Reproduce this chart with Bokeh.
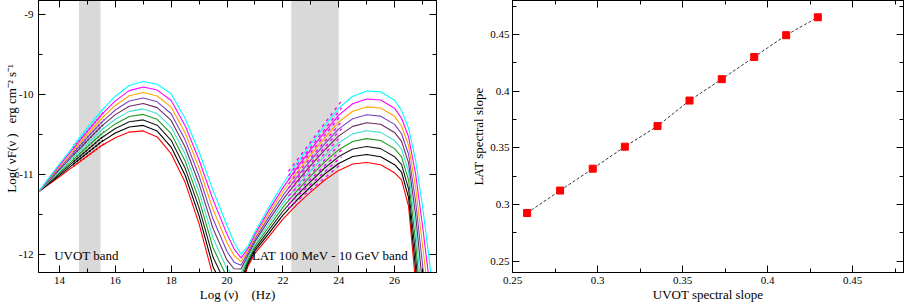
from bokeh.plotting import figure
from bokeh.models import (Range1d, LinearAxis, SingleIntervalTicker, BoxAnnotation,
                          Label, CustomJSTickFormatter)
from bokeh.layouts import row
from bokeh.embed import file_html
from bokeh.resources import INLINE

# ---------------- data: left panel (SED curves) ----------------
log_nu = [13.25, 13.5, 14.0, 14.5, 15.0, 15.5, 16.0, 16.5, 17.0, 17.5, 18.0, 18.5,
          19.0, 19.5, 20.0, 20.25, 20.5, 20.75, 21.0, 21.5, 22.0, 22.5, 23.0, 23.5,
          24.0, 24.5, 25.0, 25.5, 26.0, 26.25, 26.5, 26.75, 27.0, 27.25, 27.5]

sed_red = [-11.22, -11.155, -11.03, -10.90, -10.77, -10.64, -10.54, -10.47, -10.455, -10.53, -10.74, -11.10,
           -11.62, -12.28, -12.62, -12.60, -12.42, -12.15, -11.99, -11.78, -11.56, -11.38, -11.22, -11.07,
           -10.95, -10.87, -10.85, -10.88, -10.98, -11.07, -11.40, -12.35, -13.60, -14.5, -15.0]
sed_black1 = [-11.22, -11.149, -11.012, -10.872, -10.731, -10.592, -10.482, -10.405, -10.386, -10.457, -10.657, -11.011,
              -11.52, -12.16, -12.511, -12.517, -12.373, -12.122, -11.96, -11.739, -11.511, -11.322, -11.153, -10.994,
              -10.863, -10.776, -10.751, -10.778, -10.879, -10.973, -11.291, -12.18, -13.356, -14.233, -14.767]
sed_black2 = [-11.22, -11.143, -10.994, -10.843, -10.692, -10.543, -10.424, -10.34, -10.317, -10.383, -10.573, -10.922,
              -11.42, -12.04, -12.402, -12.433, -12.327, -12.094, -11.93, -11.698, -11.462, -11.264, -11.087, -10.919,
              -10.777, -10.681, -10.651, -10.677, -10.778, -10.877, -11.182, -12.01, -13.111, -13.967, -14.533]
sed_green = [-11.22, -11.137, -10.977, -10.815, -10.653, -10.495, -10.367, -10.275, -10.248, -10.31, -10.49, -10.833,
             -11.32, -11.92, -12.293, -12.35, -12.28, -12.067, -11.90, -11.657, -11.413, -11.207, -11.02, -10.843,
             -10.69, -10.587, -10.552, -10.575, -10.677, -10.78, -11.073, -11.84, -12.867, -13.70, -14.30]
sed_turquoise = [-11.22, -11.131, -10.959, -10.787, -10.614, -10.447, -10.309, -10.21, -10.179, -10.237, -10.407, -10.744,
                 -11.22, -11.80, -12.184, -12.267, -12.233, -12.039, -11.87, -11.616, -11.364, -11.149, -10.953, -10.768,
                 -10.603, -10.492, -10.452, -10.473, -10.576, -10.683, -10.964, -11.67, -12.622, -13.433, -14.067]
sed_maroon = [-11.22, -11.124, -10.941, -10.758, -10.576, -10.398, -10.251, -10.145, -10.111, -10.163, -10.323, -10.656,
              -11.12, -11.68, -12.076, -12.183, -12.187, -12.011, -11.84, -11.574, -11.316, -11.091, -10.887, -10.692,
              -10.517, -10.398, -10.353, -10.372, -10.474, -10.587, -10.856, -11.50, -12.378, -13.167, -13.833]
sed_purple = [-11.22, -11.118, -10.923, -10.730, -10.537, -10.350, -10.193, -10.08, -10.042, -10.09, -10.24, -10.567,
              -11.02, -11.56, -11.967, -12.10, -12.14, -11.983, -11.81, -11.533, -11.267, -11.033, -10.82, -10.617,
              -10.43, -10.303, -10.253, -10.27, -10.373, -10.49, -10.747, -11.33, -12.133, -12.90, -13.60]
sed_orange = [-11.22, -11.112, -10.906, -10.702, -10.498, -10.302, -10.136, -10.015, -9.973, -10.017, -10.157, -10.478,
              -10.92, -11.44, -11.858, -12.017, -12.093, -11.956, -11.78, -11.492, -11.218, -10.976, -10.753, -10.541,
              -10.343, -10.209, -10.154, -10.168, -10.272, -10.393, -10.638, -11.16, -11.889, -12.633, -13.367]
sed_magenta = [-11.22, -11.106, -10.888, -10.673, -10.459, -10.253, -10.078, -9.95, -9.904, -9.943, -10.073, -10.389,
               -10.82, -11.32, -11.749, -11.933, -12.047, -11.928, -11.75, -11.451, -11.169, -10.918, -10.687, -10.466,
               -10.257, -10.114, -10.054, -10.067, -10.171, -10.297, -10.529, -10.99, -11.644, -12.367, -13.133]
sed_cyan = [-11.22, -11.10, -10.87, -10.645, -10.42, -10.205, -10.02, -9.885, -9.835, -9.87, -9.99, -10.30,
            -10.72, -11.20, -11.64, -11.85, -12.00, -11.90, -11.72, -11.41, -11.12, -10.86, -10.62, -10.39,
            -10.17, -10.02, -9.955, -9.965, -10.07, -10.20, -10.42, -10.82, -11.40, -12.10, -12.90]

curve_colors = ["#ff0000", "#000000", "#1a1a1a", "#1f9a1f", "#40e0d0",
                "#6b2a60", "#7b44c4", "#ffa500", "#ff00ff", "#00ffff"]

# power-law fits inside the bands (end points)
uvot_fit_x = [14.5, 15.6]
uvot_fit_y0 = [-10.900, -10.870, -10.841, -10.811, -10.782, -10.753, -10.724, -10.694, -10.665, -10.635]
uvot_fit_y1 = [-10.615, -10.564, -10.514, -10.463, -10.413, -10.364, -10.313, -10.263, -10.212, -10.162]
lat_fit_x = [22.2, 24.1]
lat_fit_y0 = [-11.423, -11.372, -11.322, -11.270, -11.219, -11.171, -11.119, -11.068, -11.018, -10.963]
lat_fit_y1 = [-10.867, -10.778, -10.692, -10.604, -10.517, -10.427, -10.339, -10.250, -10.164, -10.079]

uvot_band = [14.7, 15.47]
lat_band = [22.3, 24.0]

# ---------------- data: right panel (slopes) ----------------
uvot_slope = [0.2586, 0.278, 0.2972, 0.3161, 0.3353, 0.3541, 0.3731, 0.3922, 0.4110, 0.4296]
lat_slope = [0.2925, 0.3123, 0.3316, 0.3510, 0.3692, 0.3917, 0.4106, 0.4302, 0.4494, 0.4652]

FONT = "Liberation Serif"
NB = "\u00a0"


def style_axis(ax, labels=True):
    ax.major_tick_in = 7
    ax.major_tick_out = 0
    ax.minor_tick_in = 4
    ax.minor_tick_out = 0
    ax.axis_line_color = "black"
    ax.major_tick_line_color = "black"
    ax.minor_tick_line_color = "black"
    ax.major_label_text_font = FONT
    ax.axis_label_text_font = FONT
    ax.axis_label_text_font_style = "normal"
    ax.axis_label_text_font_size = "13px"
    ax.axis_label_text_color = "black"
    if labels:
        ax.major_label_text_font_size = "11px"
        ax.major_label_text_color = "black"
    else:
        ax.major_label_text_font_size = "0px"
        ax.major_label_text_color = None
        ax.major_label_standoff = 0
        ax.axis_label = None


def mirror_axes(p, xticker, yticker):
    top = LinearAxis(ticker=xticker)
    right = LinearAxis(ticker=yticker)
    style_axis(top, labels=False)
    style_axis(right, labels=False)
    p.add_layout(top, "above")
    p.add_layout(right, "right")


plain_fmt = CustomJSTickFormatter(code="return String(Math.round(tick*100)/100);")

# ---------------- left panel ----------------
p1 = figure(width=460, height=304, output_backend="svg", toolbar_location=None,
            x_range=Range1d(13.25, 27.5), y_range=Range1d(-12.23, -8.82),
            min_border_left=37, min_border_right=24, min_border_top=0, min_border_bottom=27)
p1.grid.visible = False
p1.outline_line_color = "black"
p1.background_fill_color = "white"
p1.border_fill_color = "white"

xt1 = SingleIntervalTicker(interval=2, num_minor_ticks=2)
yt1 = SingleIntervalTicker(interval=1, num_minor_ticks=2)
p1.xaxis.ticker = xt1
p1.yaxis.ticker = yt1
style_axis(p1.xaxis[0])
style_axis(p1.yaxis[0])
p1.xaxis.formatter = plain_fmt
p1.yaxis.formatter = plain_fmt
p1.xaxis.major_label_standoff = 4
p1.yaxis.major_label_standoff = 5
p1.xaxis.axis_label = "Log (\u03bd)" + NB * 4 + "(Hz)"
p1.yaxis.axis_label = (NB * 5 + "Log(" + NB + "\u03bdF(\u03bd" + NB + ")" + NB * 3
                       + "erg cm\u207b\u00b2 s\u207b\u00b9")
p1.xaxis.axis_label_standoff = 0
p1.yaxis.axis_label_standoff = -3
mirror_axes(p1, xt1, yt1)

p1.add_layout(BoxAnnotation(left=uvot_band[0], right=uvot_band[1], fill_color="#d9d9d9",
                            fill_alpha=1.0, line_color=None, level="underlay"))
p1.add_layout(BoxAnnotation(left=lat_band[0], right=lat_band[1], fill_color="#d9d9d9",
                            fill_alpha=1.0, line_color=None, level="underlay"))

curves = [sed_red, sed_black1, sed_black2, sed_green, sed_turquoise,
          sed_maroon, sed_purple, sed_orange, sed_magenta, sed_cyan]
for ys, col in zip(curves, curve_colors):
    p1.line(log_nu, ys, line_color=col, line_width=1.1)

for i, col in enumerate(curve_colors):
    p1.line(uvot_fit_x, [uvot_fit_y0[i], uvot_fit_y1[i]], line_color=col,
            line_width=1.6, line_dash="2 2")
    p1.line(lat_fit_x, [lat_fit_y0[i], lat_fit_y1[i]], line_color="#ff00ff",
            line_width=1.4, line_dash="3 4")

p1.add_layout(Label(x=13.81, y=-12.105, text="UVOT band", text_font=FONT,
                    text_font_size="13px", text_color="black"))
p1.add_layout(Label(x=20.89, y=-12.105, text="LAT 100 MeV - 10 GeV band", text_font=FONT,
                    text_font_size="13px", text_color="black"))

# ---------------- right panel ----------------
p2 = figure(width=444, height=304, output_backend="svg", toolbar_location=None,
            x_range=Range1d(0.25, 0.48), y_range=Range1d(0.24, 0.48),
            min_border_left=52, min_border_right=1, min_border_top=0, min_border_bottom=27)
p2.grid.visible = False
p2.outline_line_color = "black"
p2.background_fill_color = "white"
p2.border_fill_color = "white"

xt2 = SingleIntervalTicker(interval=0.05, num_minor_ticks=2)
yt2 = SingleIntervalTicker(interval=0.05, num_minor_ticks=2)
p2.xaxis.ticker = xt2
p2.yaxis.ticker = yt2
style_axis(p2.xaxis[0])
style_axis(p2.yaxis[0])
p2.xaxis.formatter = plain_fmt
p2.yaxis.formatter = plain_fmt
p2.xaxis.major_label_standoff = 4
p2.yaxis.major_label_standoff = 3
p2.xaxis.axis_label = "UVOT spectral slope"
p2.yaxis.axis_label = "LAT spectral slope"
p2.xaxis.axis_label_standoff = 0
p2.yaxis.axis_label_standoff = 1
mirror_axes(p2, xt2, yt2)

p2.line(uvot_slope, lat_slope, line_color="black", line_width=0.8, line_dash="3 2")
p2.scatter(uvot_slope, lat_slope, marker="square", size=7, fill_color="#ff0000",
           line_color="#ff0000")

layout = row(p1, p2)

open("out.html", "w").write(file_html(layout, INLINE))
